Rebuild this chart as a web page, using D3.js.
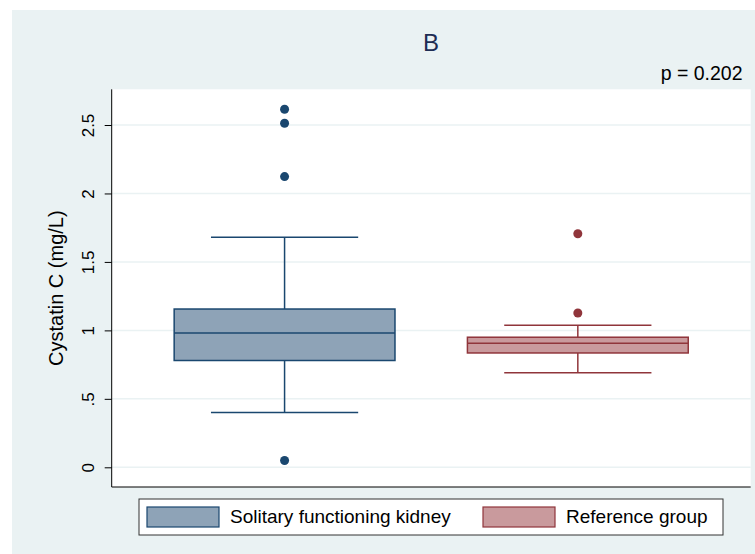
<!DOCTYPE html>
<html><head><meta charset="utf-8">
<script src="https://cdn.jsdelivr.net/npm/d3@7"></script>
<style>body{margin:0;background:#fff}svg{display:block}text{font-family:"Liberation Sans",Arial,sans-serif}</style>
</head><body><svg id="c" width="755" height="554"></svg>
<script>
const categories = ["Solitary functioning kidney", "Reference group"];
const q1 = [0.78, 0.835];
const median = [0.98, 0.906];
const q3 = [1.156, 0.95];
const whiskerLow = [0.40, 0.69];
const whiskerHigh = [1.68, 1.037];
const outliers = [[2.615, 2.513, 2.123, 0.05], [1.706, 1.127]];
const yTicks = [0, 0.5, 1, 1.5, 2, 2.5];
const yTickLabels = ["0", ".5", "1", "1.5", "2", "2.5"];
const title = "B";
const pText = "p = 0.202";
const yLabel = "Cystatin C (mg/L)";
const fills = ["#8ea3b7", "#c99a9d"];
const strokes = ["#1a476f", "#90353b"];

const svg = d3.select("#c");
const W = 755, H = 554;
const bg = "#eaf2f3";
svg.append("rect").attr("x", 12).attr("y", 10).attr("width", W - 12).attr("height", H - 10).attr("fill", bg);

const plot = {left: 111.7, right: 750.7, top: 89.3, bottom: 487};
svg.append("rect").attr("x", plot.left).attr("y", plot.top)
  .attr("width", plot.right - plot.left).attr("height", plot.bottom - plot.top).attr("fill", "#fff");

const y = d3.scaleLinear().domain([0, 2.5]).range([467.3, 125]);
const x = d3.scaleBand().domain(categories).range([plot.left, plot.right])
  .paddingInner(0.247).paddingOuter(0.213);

// gridlines
svg.append("g").selectAll("line").data(yTicks).join("line")
  .attr("x1", plot.left).attr("x2", plot.right)
  .attr("y1", d => y(d)).attr("y2", d => y(d))
  .attr("stroke", bg).attr("stroke-width", 1.5);

// y axis
const yAxis = d3.axisLeft(y).tickValues(yTicks).tickFormat((d, i) => yTickLabels[i]).tickSize(7).tickPadding(6);
const gy = svg.append("g").attr("transform", `translate(${plot.left},0)`).call(yAxis);
gy.select(".domain").remove();
gy.selectAll(".tick line").attr("stroke", "#000").attr("stroke-width", 1);
gy.selectAll(".tick text").attr("font-size", 17).attr("fill", "#000")
  .attr("text-anchor", "middle").attr("x", 0).attr("y", 0).attr("dy", 0)
  .attr("transform", "translate(-18,0) rotate(-90)");
svg.append("line").attr("x1", plot.left).attr("x2", plot.left).attr("y1", plot.top).attr("y2", plot.bottom)
  .attr("stroke", "#000").attr("stroke-width", 1);
svg.append("line").attr("x1", plot.left).attr("x2", plot.right).attr("y1", plot.bottom).attr("y2", plot.bottom)
  .attr("stroke", "#000").attr("stroke-width", 1);

// y label
svg.append("text").attr("transform", `translate(63,${(plot.top + plot.bottom) / 2}) rotate(-90)`)
  .attr("text-anchor", "middle").attr("font-size", 20).attr("fill", "#000").text(yLabel);

// boxes
categories.forEach((c, i) => {
  const g = svg.append("g");
  const bx = x(c), bw = x.bandwidth(), cx = bx + bw / 2, capW = bw * 2 / 3;
  const col = strokes[i];
  g.append("line").attr("x1", cx).attr("x2", cx).attr("y1", y(q3[i])).attr("y2", y(whiskerHigh[i])).attr("stroke", col).attr("stroke-width", 1.5);
  g.append("line").attr("x1", cx).attr("x2", cx).attr("y1", y(q1[i])).attr("y2", y(whiskerLow[i])).attr("stroke", col).attr("stroke-width", 1.5);
  g.append("line").attr("x1", cx - capW / 2).attr("x2", cx + capW / 2).attr("y1", y(whiskerHigh[i])).attr("y2", y(whiskerHigh[i])).attr("stroke", col).attr("stroke-width", 1.5);
  g.append("line").attr("x1", cx - capW / 2).attr("x2", cx + capW / 2).attr("y1", y(whiskerLow[i])).attr("y2", y(whiskerLow[i])).attr("stroke", col).attr("stroke-width", 1.5);
  g.append("rect").attr("x", bx).attr("width", bw).attr("y", y(q3[i])).attr("height", y(q1[i]) - y(q3[i]))
    .attr("fill", fills[i]).attr("stroke", col).attr("stroke-width", 1.5);
  g.append("line").attr("x1", bx).attr("x2", bx + bw).attr("y1", y(median[i])).attr("y2", y(median[i])).attr("stroke", col).attr("stroke-width", 1.5);
  g.selectAll("circle").data(outliers[i]).join("circle")
    .attr("cx", cx).attr("cy", d => y(d)).attr("r", 4.5).attr("fill", col);
});

// title and note
svg.append("text").attr("x", 431).attr("y", 51).attr("text-anchor", "middle").attr("font-size", 24).attr("fill", "#1e2d53").text(title);
svg.append("text").attr("x", 742.5).attr("y", 80).attr("text-anchor", "end").attr("font-size", 19.5).attr("fill", "#000").text(pText);

// legend
const leg = {x: 139, y: 499, w: 584, h: 36};
svg.append("rect").attr("x", leg.x).attr("y", leg.y).attr("width", leg.w).attr("height", leg.h)
  .attr("fill", "#fff").attr("stroke", "#333").attr("stroke-width", 1);
const legX = [147, 483];
categories.forEach((c, i) => {
  svg.append("rect").attr("x", legX[i]).attr("y", leg.y + 8).attr("width", 72).attr("height", 20)
    .attr("fill", fills[i]).attr("stroke", strokes[i]).attr("stroke-width", 1.2);
  svg.append("text").attr("x", legX[i] + 83).attr("y", leg.y + 24).attr("font-size", 19).attr("fill", "#000").text(c);
});
</script></body></html>
